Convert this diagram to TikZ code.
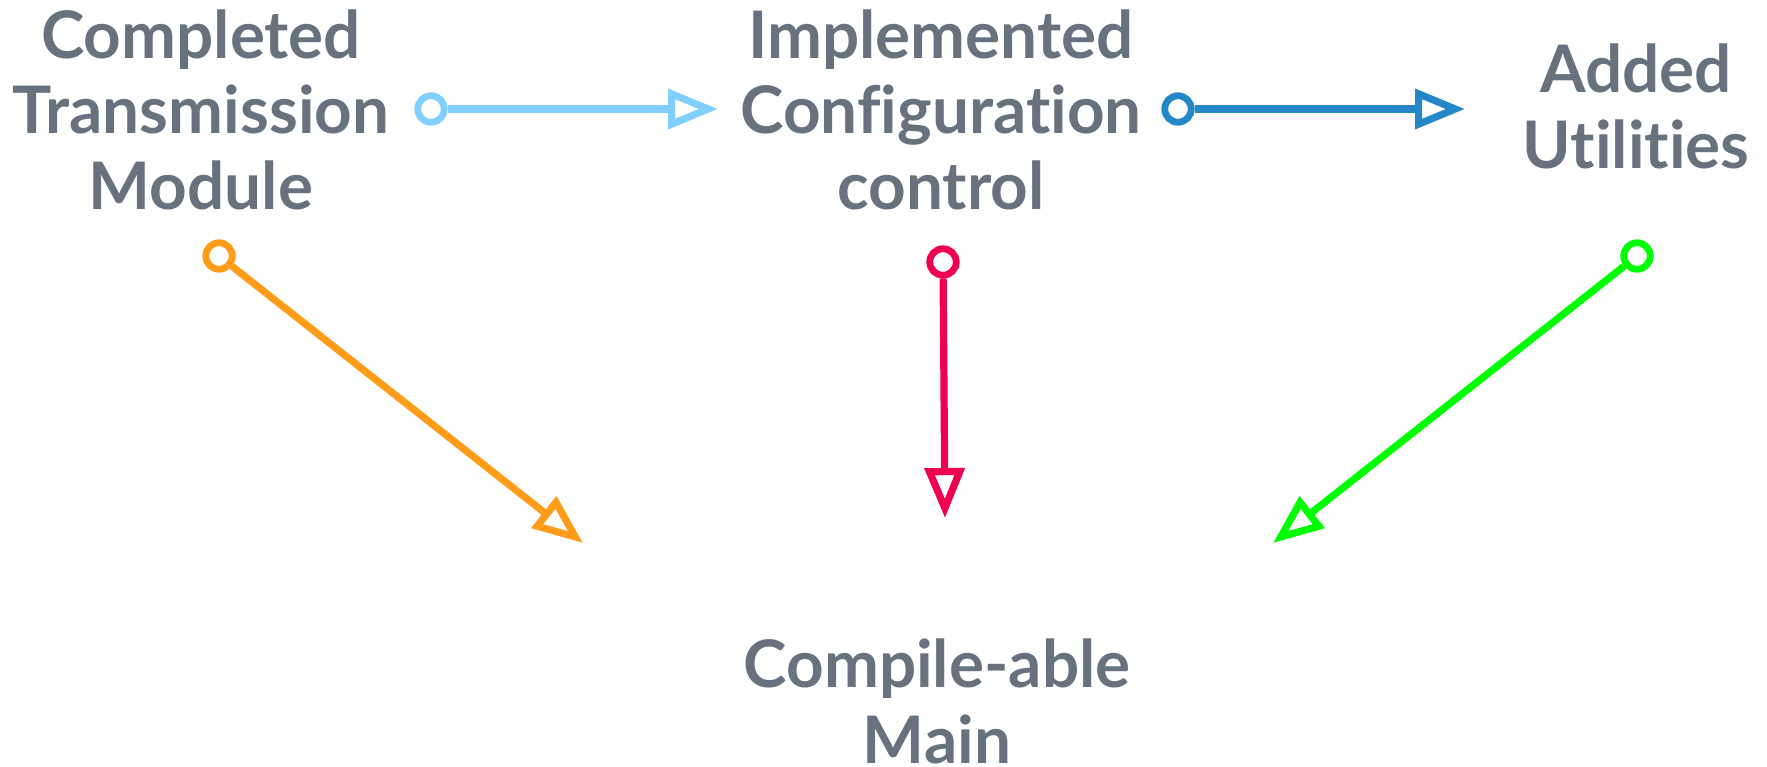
\documentclass[tikz,border=0pt]{standalone}
\usepackage{fontspec}
\setmainfont{Lato}[BoldFont={Lato Bold}, Ligatures=NoCommon]
\usetikzlibrary{arrows.meta}

\definecolor{labelgray}{HTML}{67727E}
\definecolor{skyblue}{HTML}{80CFFF}
\definecolor{oceanblue}{HTML}{2387C8}
\definecolor{amber}{HTML}{FF9C1A}
\definecolor{crimson}{HTML}{F00050}
\definecolor{lime}{HTML}{00FF00}

\begin{document}
\begin{tikzpicture}[x=1pt, y=-1pt,
  label/.style={font=\bfseries\fontsize{65.6}{75.5}\selectfont, text=labelgray,
    align=center, inner sep=0pt, anchor=base},
  startdot/.style={circle, draw=#1, fill=white, line width=6.8pt,
    minimum size=26.5pt, inner sep=0pt},
  flow/.style={draw=#1, line width=7.2pt,
    -{Triangle[open, length=50pt, width=39pt]}}
]
\useasboundingbox (0,0) rectangle (1767,766);

% labels (anchored at the baseline of the last line)
\node[label] (ctm) at (201,209)  {Completed\\Transmission\\Module};
\node[label] (icc) at (941,209)  {Implemented\\Configuration\\control};
\node[label] (au)  at (1636,168) {Added\\Utilities};
\node[label] (cm)  at (937,763)  {Compile-able\\Main};

% connector start dots
\node[startdot=skyblue]   (s1) at (431,109) {};
\node[startdot=oceanblue] (s2) at (1178,109) {};
\node[startdot=amber]     (s3) at (219,256) {};
\node[startdot=crimson]   (s4) at (943,262) {};
\node[startdot=lime]      (s5) at (1637,256) {};

% connector ends
\coordinate (e1) at (718,109);
\coordinate (e2) at (1465,109);
\coordinate (e3) at (583,543);
\coordinate (e4) at (945,518);
\coordinate (e5) at (1273,543);

\draw[flow=skyblue]   (s1) -- (e1);
\draw[flow=oceanblue] (s2) -- (e2);
\draw[flow=amber]     (s3) -- (e3);
\draw[flow=crimson]   (s4) -- (e4);
\draw[flow=lime]      (s5) -- (e5);
\end{tikzpicture}
\end{document}
